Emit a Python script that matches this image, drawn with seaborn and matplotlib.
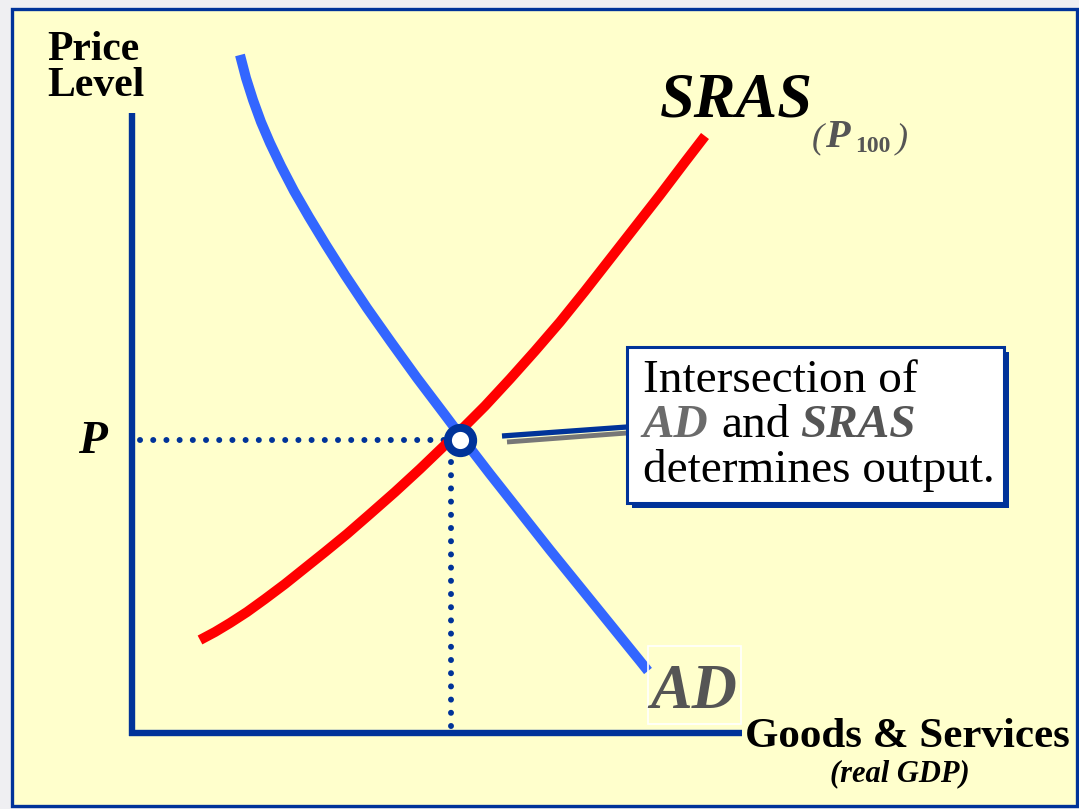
import matplotlib
matplotlib.use("Agg")
import matplotlib.pyplot as plt
import seaborn as sns
from matplotlib.patches import Rectangle

# 数据 (real GDP, price level)
ad_gdp = [10.8, 11.4, 12.1, 12.9, 13.8, 14.9, 16.2, 17.7, 19.4, 21.3, 23.5,
          25.9, 28.5, 31.3, 32.8, 35.8, 38.8, 41.8, 44.8, 47.8, 50.8, 51.6]
ad_price = [67.8, 65.5, 63.3, 61.1, 59.0, 56.7, 54.2, 51.6, 48.8, 45.8, 42.5,
            39.1, 35.5, 31.8, 29.8, 25.9, 22.1, 18.3, 14.6, 10.9, 7.2, 6.2]

sras_gdp = [6.8, 8.3, 9.8, 11.5, 13.3, 15.3, 17.3, 19.3, 21.5, 23.8, 26.3, 28.8,
            31.3, 32.8, 35.3, 37.8, 40.3, 42.8, 45.3, 47.8, 50.3, 52.8, 55.3, 57.3]
sras_price = [9.3, 10.1, 11.0, 12.1, 13.4, 14.9, 16.5, 18.1, 19.9, 21.9, 24.1, 26.4,
              28.8, 30.2, 32.7, 35.4, 38.2, 41.1, 44.2, 47.4, 50.6, 53.8, 57.1, 59.7]

eq_gdp = 32.8
eq_price = 29.3
guide_gdp = 31.9          # vertical dotted guide
guide_start = 0.8         # horizontal dotted guide starts here

callout_gdp = [37.0, 49.5]
callout_price = [29.7, 30.6]

DARK = "#003399"
BLUE = "#3366FF"
RED = "#FF0000"
GRAY = "#555555"

sns.set_theme(style="white")
plt.rcParams["font.family"] = ["Liberation Serif", "DejaVu Serif"]

fig = plt.figure(figsize=(10.79, 8.09), dpi=100)
fig.patch.set_facecolor("#EFEFF2")
ax = fig.add_axes([0, 0, 1, 1])
ax.set_xlim(-13.2, 94.7)
ax.set_ylim(-7.6, 73.3)
ax.axis("off")

# 黄色面板
ax.add_patch(Rectangle((-12.0, -7.3), 106.5, 79.7, facecolor="#FFFFCC",
                       edgecolor=DARK, lw=2.4, zorder=0))

# 坐标轴
ax.plot([0, 0], [62.0, -0.3], color=DARK, linewidth=4.6, solid_capstyle="butt", zorder=2)
ax.plot([-0.3, 61.0], [0, 0], color=DARK, linewidth=4.6, solid_capstyle="butt", zorder=2)

# 虚线
ax.plot([guide_start, eq_gdp - 1.3], [eq_price, eq_price], color=DARK, linewidth=4.3,
        linestyle=(0, (0.01, 2.2)), dash_capstyle="round", zorder=2)
ax.plot([guide_gdp, guide_gdp], [eq_price - 2.2, 0.3], color=DARK, linewidth=4.3,
        linestyle=(0, (0.01, 2.2)), dash_capstyle="round", zorder=2)

# 曲线
sns.lineplot(x=ad_gdp, y=ad_price, sort=False, estimator=None, color=BLUE,
             linewidth=7.2, solid_capstyle="butt", ax=ax, zorder=3)
sns.lineplot(x=sras_gdp, y=sras_price, sort=False, estimator=None, color=RED,
             linewidth=7.2, solid_capstyle="butt", ax=ax, zorder=3)

ax.scatter([eq_gdp], [eq_price], s=330, facecolor="white", edgecolor=DARK,
           linewidths=5.8, zorder=5)

# 标注线
ax.plot([callout_gdp[0] + 0.5, callout_gdp[1]],
        [p - 0.6 for p in callout_price], color="#777777", linewidth=3.5,
        solid_capstyle="butt", zorder=3)
ax.plot(callout_gdp, callout_price, color=DARK, linewidth=3.8, solid_capstyle="butt", zorder=4)

# 文本框
ax.add_patch(Rectangle((50.0, 22.5), 37.7, 15.6, facecolor=DARK, edgecolor="none", zorder=5))
ax.add_patch(Rectangle((49.5, 23.0), 37.7, 15.6, facecolor="white",
                       edgecolor=DARK, lw=2.2, zorder=6))
ax.text(51.1, 34.1, "Intersection of", fontsize=34, color="black", zorder=7)
ax.text(51.0, 29.6, "AD", fontsize=34, fontweight="bold", fontstyle="italic",
        color="#6b6b6b", zorder=7)
ax.text(58.9, 29.6, "and", fontsize=34, color="black", zorder=7)
ax.text(66.8, 29.6, "SRAS", fontsize=34, fontweight="bold", fontstyle="italic",
        color=GRAY, zorder=7)
ax.text(51.1, 25.1, "determines output.", fontsize=34, color="black", zorder=7)

# 轴标签
ax.text(-8.5, 67.3, "Price", fontsize=30, fontweight="bold", color="black")
ax.text(-8.5, 63.7, "Level", fontsize=30, fontweight="bold", color="black")
ax.text(-5.4, 28.0, "P", fontsize=34, fontweight="bold", fontstyle="italic", color="black")

ax.text(61.3, -1.4, "Goods & Services", fontsize=31, fontweight="bold", color="black")
ax.text(76.8, -4.8, "(real GDP)", fontsize=22, fontweight="bold", fontstyle="italic",
        color="black", ha="center")

# 曲线标签
ax.text(52.8, 61.6, "SRAS", fontsize=45, fontweight="bold", fontstyle="italic", color="black")
ax.text(68.0, 58.6, "(", fontsize=26, fontstyle="italic", color=GRAY)
ax.text(69.3, 58.6, "P", fontsize=29, fontweight="bold", fontstyle="italic", color=GRAY)
ax.text(72.3, 58.1, "100", fontsize=17, fontweight="bold", color=GRAY)
ax.text(76.4, 58.6, ")", fontsize=26, fontstyle="italic", color=GRAY)

ax.add_patch(Rectangle((51.6, 0.9), 9.3, 7.8, facecolor="none", edgecolor="white",
                       lw=1.2, zorder=4))
ax.text(51.8, 2.5, "AD", fontsize=45, fontweight="bold", fontstyle="italic",
        color=GRAY, zorder=5)

fig.savefig("out.png", dpi=100, facecolor=fig.get_facecolor())
